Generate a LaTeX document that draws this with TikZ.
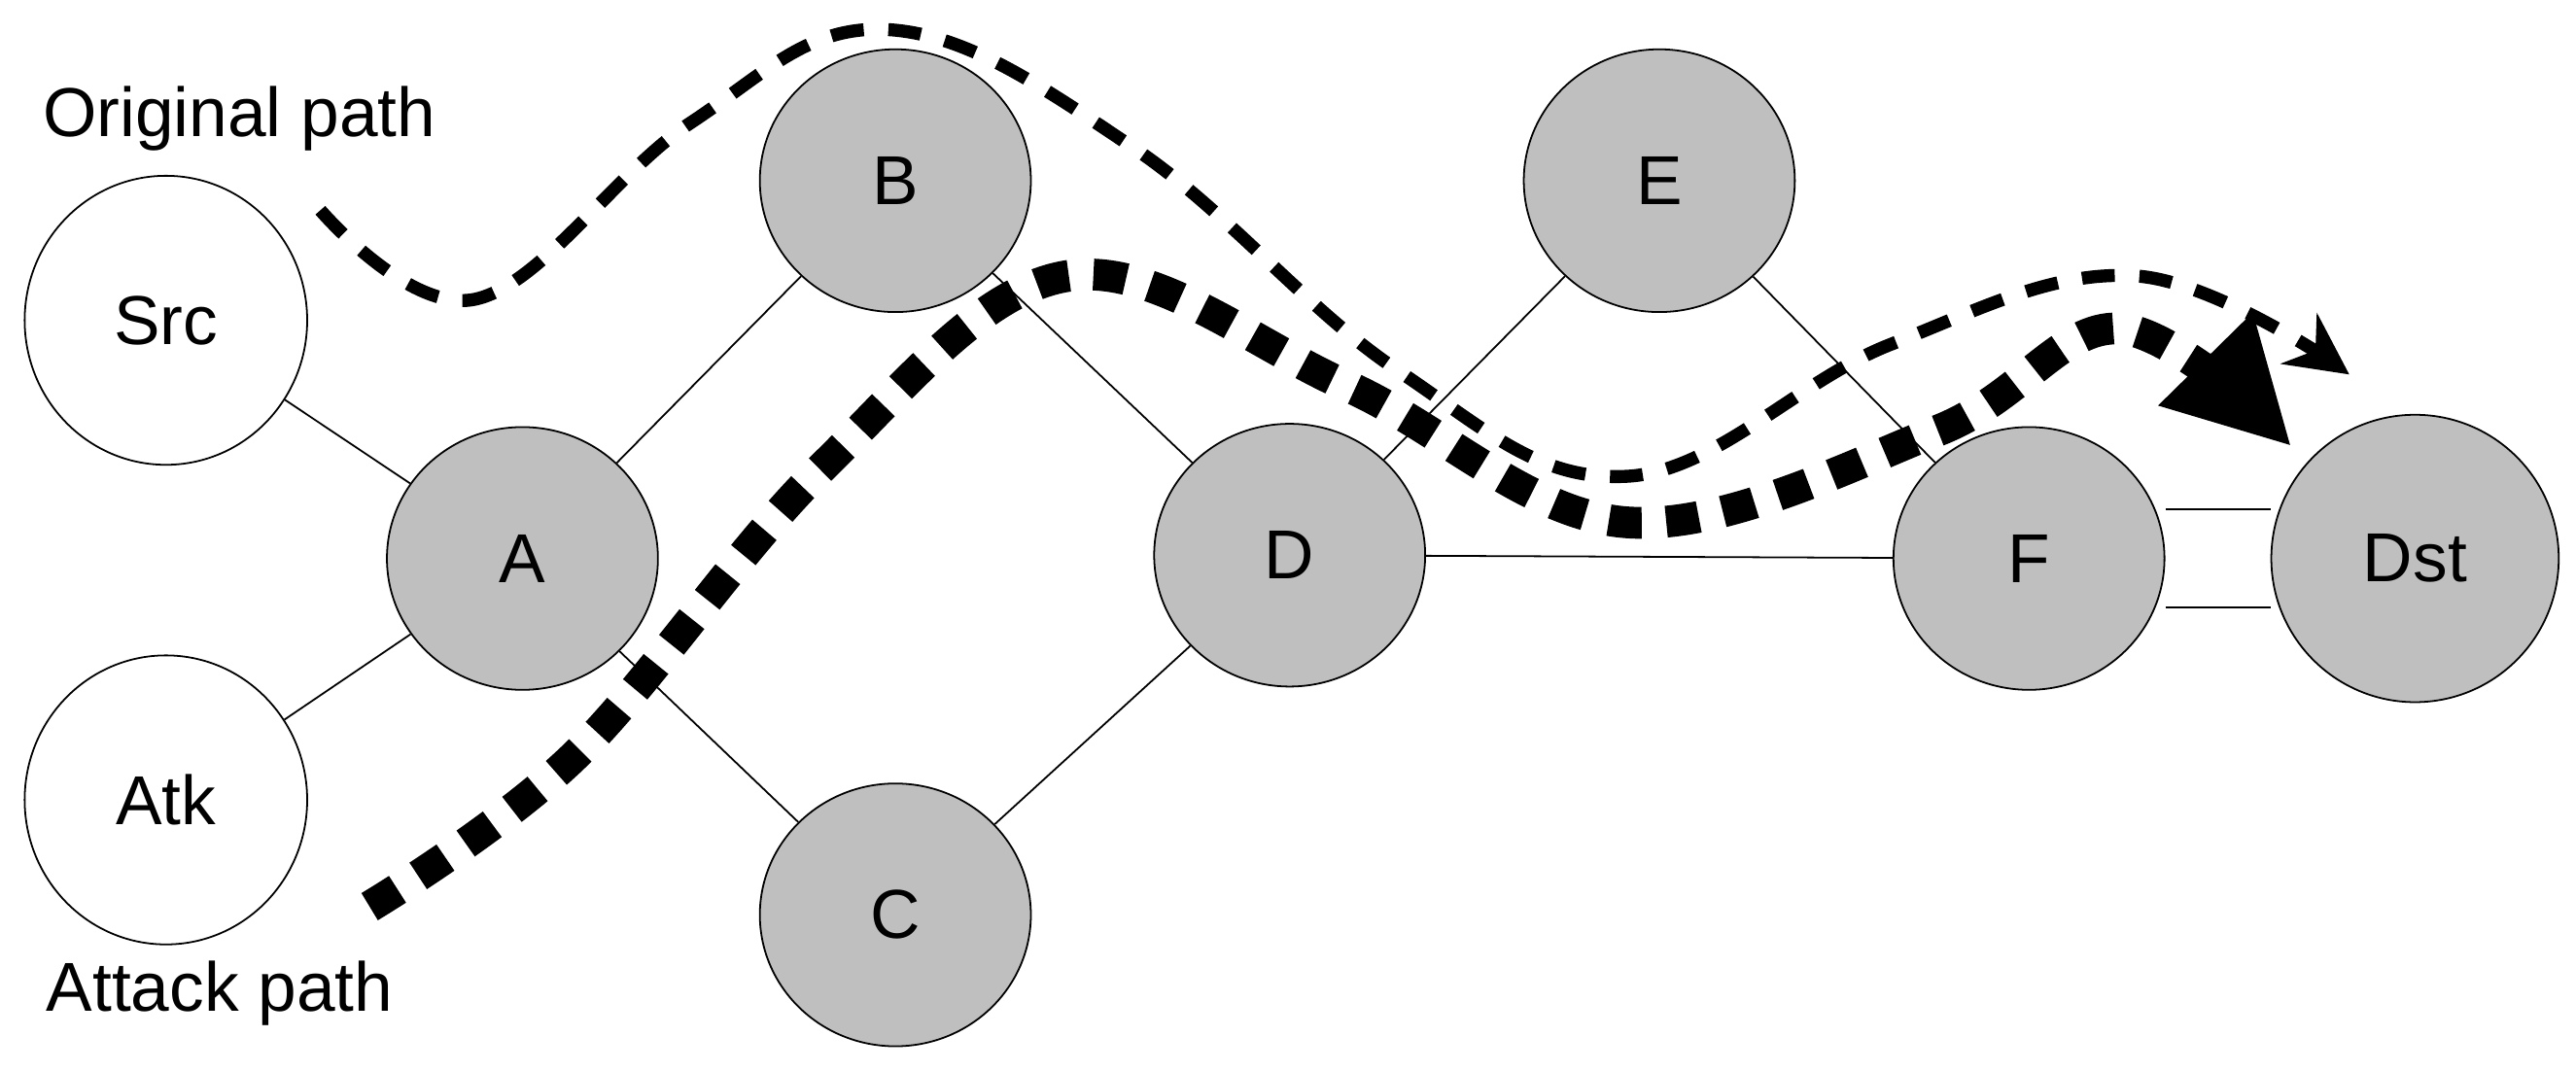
\documentclass[tikz,border=0pt]{standalone}
\usepackage{fontspec}
\setmainfont{Liberation Sans}
\usetikzlibrary{shapes.geometric,arrows.meta}
\begin{document}
\begin{tikzpicture}[x=0.02cm,y=-0.02cm,
  nd/.style={ellipse,draw,line width=0.6pt,minimum width=3.3cm,minimum height=3.2cm,fill=gray!50,font=\fontsize{24}{28}\selectfont,inner sep=0},
  wn/.style={nd,fill=white,minimum width=3.44cm,minimum height=3.52cm},
  ed/.style={line width=0.6pt},
  lab/.style={font=\fontsize{24}{28}\selectfont,anchor=west}]
\useasboundingbox (0,0) rectangle (1568,652);
\node[wn] (src) at (101,195) {Src};
\node[wn] (atk) at (101,487) {Atk};
\node[nd] (a) at (318,340) {A};
\node[nd] (b) at (545,110) {B};
\node[nd] (c) at (545,557) {C};
\node[nd] (d) at (785,338) {D};
\node[nd] (e) at (1010,110) {E};
\node[nd] (f) at (1235,340) {F};
\node[nd,minimum width=3.5cm,minimum height=3.5cm] (dst) at (1470,340) {Dst};
\draw[ed] (src) -- (a);
\draw[ed] (atk) -- (a);
\draw[ed] (a) -- (b);
\draw[ed] (a) -- (c);
\draw[ed] (b) -- (d);
\draw[ed] (c) -- (d);
\draw[ed] (d) -- (e);
\draw[ed] (e) -- (f);
\draw[ed] (d) -- (f);
\draw[ed] ([yshift=0.6cm]f.east) -- ([yshift=0.6cm]dst.west);
\draw[ed] ([yshift=-0.6cm]f.east) -- ([yshift=-0.6cm]dst.west);
\node[lab] (ol) at (20,72) {Original path};
\node[lab] (al) at (22,605) {Attack path};
\draw[line width=4.5pt,dash pattern=on 0.4cm off 0.3cm,-{Stealth[length=0.75cm,width=0.75cm]}]
  plot[smooth,tension=0.65] coordinates {(195,128) (290,182) (420,75) (540,18) (690,90) (850,225) (990,290) (1150,210) (1300,168) (1430,228)};
\draw[line width=11pt,dash pattern=on 0.4cm off 0.3cm,-{Triangle[length=1.5cm,width=1.5cm]}]
  plot[smooth,tension=0.6] coordinates {(225,552) (350,460) (500,285) (650,168) (820,235) (990,318) (1180,262) (1290,200) (1395,272)};
\end{tikzpicture}
\end{document}
